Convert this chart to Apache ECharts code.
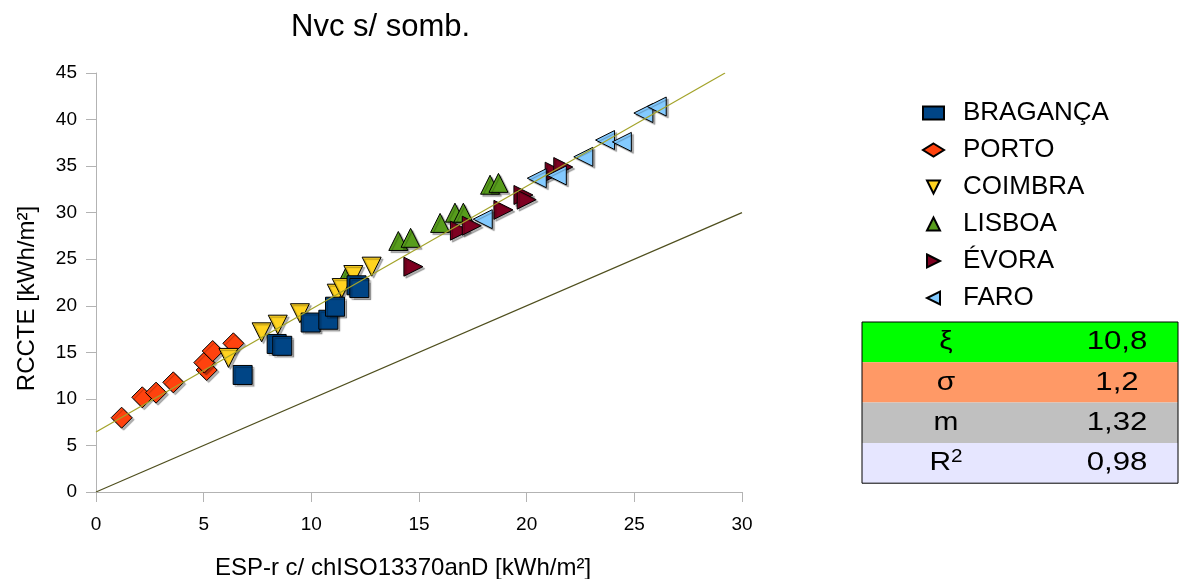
<!DOCTYPE html>
<html>
<head>
<meta charset="utf-8">
<script src="https://cdn.jsdelivr.net/npm/echarts@6/dist/echarts.min.js"></script>
<style>html,body{margin:0;padding:0;background:#fff;}#c{width:1189px;height:579px;}</style>
</head>
<body>
<div id="c"></div>
<script>
// ---- data ----
const titleText = 'Nvc s/ somb.';
const xName = 'ESP-r c/ chISO13370anD [kWh/m²]';
const yName = 'RCCTE [kWh/m²]';
const seriesNames = ['BRAGANÇA', 'PORTO', 'COIMBRA', 'LISBOA', 'ÉVORA', 'FARO'];
const braganca = [[6.81,12.57],[8.39,15.9],[8.65,15.7],[9.97,18.2],[10.79,18.5],[11.1,19.9],[12.1,22.2],[12.23,21.9]];
const porto = [[1.19,7.98],[2.15,10.17],[2.79,10.67],[3.59,11.78],[5.14,13.1],[5.03,13.9],[5.42,15.14],[6.38,15.97]];
const coimbra = [[6.15,14.4],[7.69,17.15],[8.44,17.97],[9.47,19.2],[11.18,21.3],[11.41,21.9],[11.95,23.3],[12.8,24.2]];
const lisboa = [[11.61,23.1],[14.04,26.96],[14.61,27.3],[15.98,28.9],[16.67,30.0],[17.06,30.0],[18.3,33.0],[18.69,33.2]];
const evora = [[14.74,24.2],[16.9,28.07],[17.45,28.6],[18.92,30.3],[19.85,31.9],[20.0,31.4],[21.3,34.4],[21.7,34.9]];
const faro = [[17.96,29.3],[20.47,33.7],[21.4,34.0],[22.63,36.0],[23.64,37.8],[24.42,37.6],[25.42,40.7],[26.04,41.4]];
const trendSlope = 1.32;
const trendIntercept = 6.44;
const identityRange = [0, 30];
const xTicks = { min: 0, max: 30, interval: 5 };
const yTicks = { min: 0, max: 45, interval: 5 };
const statLabels = ['ξ', 'σ', 'm', 'R{sup|2}'];
const statValues = ['10,8', '1,2', '1,32', '0,98'];

// ---- styles ----
const colors = ['#004586', '#ff420e', '#ffd320', '#579d1c', '#7e0021', '#83caff'];
const symbols = ['rect', 'diamond', 'path://M0,0 L10,0 L5,10 Z', 'path://M5,0 L10,10 L0,10 Z', 'path://M0,0 L10,5 L0,10 Z', 'path://M10,0 L10,10 L0,5 Z'];
const symbolSizes = [19, 21, 19, 19, 19, 19];
const zs = [4, 2, 3, 1, 2, 3];
const statColors = ['#00ff00', '#ff9966', '#c0c0c0', '#e6e6ff'];
const FONT = '"Liberation Sans", Arial, sans-serif';

const dataSets = [braganca, porto, coimbra, lisboa, evora, faro];
const trendEndX = (yTicks.max - trendIntercept) / trendSlope;
const trendData = [[0, trendIntercept], [trendEndX, trendIntercept + trendSlope * trendEndX]];
const identityData = identityRange.map(v => [v, v]);

const scatterSeries = dataSets.map((d, i) => ({
  name: seriesNames[i],
  type: 'scatter',
  data: d,
  symbol: symbols[i],
  symbolSize: symbolSizes[i],
  z: zs[i],
  itemStyle: {
    color: colors[i], opacity: 1, borderColor: '#000', borderWidth: 1,
    shadowColor: 'rgba(0,0,0,0.3)', shadowOffsetX: 2, shadowOffsetY: 2, shadowBlur: 1
  },
  emphasis: { disabled: true }
}));

// table graphic
const tblX = 862, tblY = 322, tblW = 316, rowH = 40.3, col1 = 946, col2 = 1117;
const tableEls = [];
statLabels.forEach((lab, i) => {
  tableEls.push({ type: 'rect', shape: { x: tblX, y: tblY + i * rowH, width: tblW, height: rowH }, style: { fill: statColors[i] }, silent: true });
  tableEls.push({ type: 'text', x: col1, y: tblY + i * rowH + rowH / 2, scaleX: 1.15,
    style: { text: lab, x: 0, y: 0, align: 'center', verticalAlign: 'middle', fill: '#000', font: '26px ' + FONT,
      rich: { sup: { fontSize: 18, verticalAlign: 'top', padding: [0, 0, 12, 0], fontFamily: FONT } } }, silent: true });
  tableEls.push({ type: 'text', x: col2, y: tblY + i * rowH + rowH / 2, scaleX: 1.2,
    style: { text: statValues[i], x: 0, y: 0, align: 'center', verticalAlign: 'middle', fill: '#000', font: '26px ' + FONT }, silent: true });
});
tableEls.push({ type: 'rect', shape: { x: tblX, y: tblY, width: tblW, height: rowH * 4 }, style: { fill: 'none', stroke: '#000', lineWidth: 1 }, silent: true });

const chart = echarts.init(document.getElementById('c'), null, { renderer: 'canvas' });
chart.setOption({
  animation: false,
  backgroundColor: '#fff',
  title: {
    text: titleText, left: 286, top: 7,
    textStyle: { fontFamily: FONT, fontSize: 31, fontWeight: 'normal', color: '#000' }
  },
  grid: { left: 96, right: 447, top: 73, bottom: 87, containLabel: false, outerBoundsMode: 'none' },
  legend: {
    orient: 'vertical', left: 917, top: 95, itemGap: 11,
    itemWidth: 21, itemHeight: 13,
    data: seriesNames,
    textStyle: { fontFamily: FONT, fontSize: 26, color: '#000', padding: [0, 0, 0, 14] },
    selectedMode: false
  },
  xAxis: {
    type: 'value', min: xTicks.min, max: xTicks.max, interval: xTicks.interval,
    name: xName, nameLocation: 'middle', nameGap: 64,
    nameTextStyle: { fontFamily: FONT, fontSize: 24, color: '#000', padding: [0, 32, 0, 0] },
    axisLine: { show: true, lineStyle: { color: '#b3b3b3', width: 1 } },
    axisTick: { show: true, length: 10, lineStyle: { color: '#b3b3b3' } },
    axisLabel: { fontFamily: FONT, fontSize: 19, color: '#000', margin: 23 },
    splitLine: { show: false }
  },
  yAxis: {
    type: 'value', min: yTicks.min, max: yTicks.max, interval: yTicks.interval,
    name: yName, nameLocation: 'middle', nameGap: 57,
    nameTextStyle: { fontFamily: FONT, fontSize: 24, color: '#000', padding: [0, 32, 0, 0] },
    axisLine: { show: true, lineStyle: { color: '#b3b3b3', width: 1 } },
    axisTick: { show: true, length: 10, lineStyle: { color: '#b3b3b3' } },
    axisLabel: { fontFamily: FONT, fontSize: 19, color: '#000', margin: 19 },
    splitLine: { show: false }
  },
  series: scatterSeries.concat([
    { name: 'trend', type: 'line', data: trendData, symbol: 'none', z: 10,
      lineStyle: { color: '#a3a329', width: 1.2 }, emphasis: { disabled: true }, silent: true },
    { name: 'identity', type: 'line', data: identityData, symbol: 'none', z: 10,
      lineStyle: { color: '#4f4f1e', width: 1.2 }, emphasis: { disabled: true }, silent: true }
  ]),
  graphic: tableEls
});
</script>
</body>
</html>
